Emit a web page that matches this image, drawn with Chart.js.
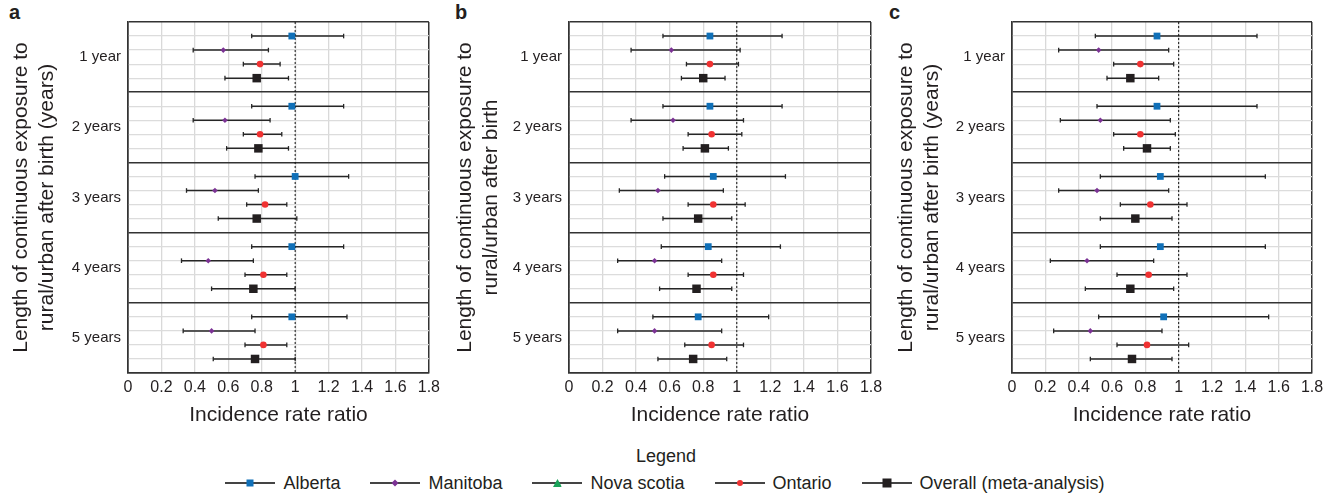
<!DOCTYPE html>
<html>
<head>
<meta charset="utf-8">
<script src="https://cdn.jsdelivr.net/npm/chart.js"></script>
<style>
  body { margin: 0; background: #fff; width: 1336px; height: 494px; position: relative; overflow: hidden;
         font-family: "Liberation Sans", Arial, sans-serif; color: #231f20; }
  canvas { position: absolute; top: 0; }
  .tag { position: absolute; top: 1px; font-weight: bold; font-size: 20px; }
  #legend-title { position: absolute; left: 0; width: 1332px; text-align: center; top: 446px; font-size: 18px; }
  #legend { position: absolute; top: 472px; left: 0; width: 1330px; display: flex; justify-content: center; font-size: 18px; }
  .item { display: flex; align-items: center; margin: 0 15px; }
  .sym { position: relative; width: 50px; height: 22px; margin-right: 8px; }
  .sym .ln { position: absolute; left: 0; right: 0; top: 10px; height: 1.5px; background: #444; }
  .sym .mk { position: absolute; left: 50%; top: 11px; transform: translate(-50%, -50%); }
</style>
</head>
<body>
<div class="tag" style="left:9px">a</div>
<div class="tag" style="left:455px">b</div>
<div class="tag" style="left:889px">c</div>
<canvas id="chartA" width="445" height="431" style="left:0px"></canvas>
<canvas id="chartB" width="445" height="431" style="left:444px"></canvas>
<canvas id="chartC" width="451" height="431" style="left:885px"></canvas>
<div id="legend-title">Legend</div>
<div id="legend"></div>
<script>
const years = ['1 year', '2 years', '3 years', '4 years', '5 years'];
const xTicks = [0, 0.2, 0.4, 0.6, 0.8, 1, 1.2, 1.4, 1.6, 1.8];
const regions = ['Alberta', 'Manitoba', 'Nova scotia', 'Ontario', 'Overall (meta-analysis)'];

// [estimate, lower, upper] for 1..5 years
const aAlberta = [[0.98, 0.74, 1.29], [0.98, 0.74, 1.29], [1.00, 0.76, 1.32], [0.98, 0.74, 1.29], [0.98, 0.74, 1.31]];
const aManitoba = [[0.57, 0.39, 0.84], [0.58, 0.39, 0.85], [0.52, 0.35, 0.78], [0.48, 0.32, 0.75], [0.50, 0.33, 0.76]];
const aNovaScotia = [];
const aOntario = [[0.79, 0.69, 0.91], [0.79, 0.69, 0.92], [0.82, 0.71, 0.95], [0.81, 0.70, 0.95], [0.81, 0.70, 0.95]];
const aOverall = [[0.77, 0.58, 0.96], [0.78, 0.59, 0.96], [0.77, 0.54, 1.01], [0.75, 0.50, 1.00], [0.76, 0.51, 1.00]];

const bAlberta = [[0.84, 0.56, 1.27], [0.84, 0.56, 1.27], [0.86, 0.57, 1.29], [0.83, 0.55, 1.26], [0.77, 0.50, 1.19]];
const bManitoba = [[0.61, 0.37, 1.02], [0.62, 0.37, 1.04], [0.53, 0.30, 0.92], [0.51, 0.29, 0.91], [0.51, 0.29, 0.91]];
const bNovaScotia = [];
const bOntario = [[0.84, 0.70, 1.01], [0.85, 0.71, 1.03], [0.86, 0.71, 1.05], [0.86, 0.71, 1.04], [0.85, 0.69, 1.04]];
const bOverall = [[0.80, 0.67, 0.93], [0.81, 0.68, 0.95], [0.77, 0.56, 0.97], [0.76, 0.54, 0.97], [0.74, 0.53, 0.94]];

const cAlberta = [[0.87, 0.50, 1.47], [0.87, 0.51, 1.47], [0.89, 0.53, 1.52], [0.89, 0.53, 1.52], [0.91, 0.52, 1.54]];
const cManitoba = [[0.52, 0.28, 0.94], [0.53, 0.29, 0.95], [0.51, 0.28, 0.94], [0.45, 0.23, 0.85], [0.47, 0.25, 0.90]];
const cNovaScotia = [];
const cOntario = [[0.77, 0.61, 0.97], [0.77, 0.61, 0.98], [0.83, 0.65, 1.05], [0.82, 0.63, 1.05], [0.81, 0.63, 1.06]];
const cOverall = [[0.71, 0.57, 0.88], [0.81, 0.67, 0.95], [0.74, 0.53, 0.96], [0.71, 0.44, 0.97], [0.72, 0.47, 0.96]];

const style = {
  'Alberta': { row: 1, color: '#1070b8', shape: 'rect', r: 4.8 },
  'Manitoba': { row: 2, color: '#7b3294', shape: 'rectRot', r: 2.8 },
  'Nova scotia': { row: 0, color: '#1aa35a', shape: 'triangle', r: 4 },
  'Ontario': { row: 3, color: '#f03232', shape: 'circle', r: 3.3 },
  'Overall (meta-analysis)': { row: 4, color: '#231f20', shape: 'rect', r: 6 },
};

const ink = '#231f20';
const font = 'Liberation Sans, Arial, sans-serif';

function makePanel(id, seriesList, yTitle, yWidth, padRight) {
  const datasets = [];
  seriesList.forEach((vals, k) => {
    const s = style[regions[k]];
    const bars = [];
    const pts = [];
    vals.forEach((v, g) => {
      const y = g * 5 + s.row;
      bars.push({ x: v[1], y }, { x: v[2], y }, { x: null, y: null });
      pts.push({ x: v[0], y });
    });
    datasets.push({
      label: regions[k] + ' CI', data: bars, showLine: true, spanGaps: false, order: 2,
      borderColor: '#262626', borderWidth: 1.5,
      pointStyle: 'line', pointRotation: 90, pointRadius: 2.3,
      pointBorderColor: '#262626', pointBorderWidth: 1.3,
    });
    datasets.push({
      label: regions[k], data: pts, showLine: false, order: 0,
      pointStyle: s.shape, pointRadius: s.r, pointBackgroundColor: s.color,
      pointBorderColor: s.color, pointBorderWidth: 0,
    });
  });
  datasets.push({
    label: 'ref', data: [{ x: 1, y: 0 }, { x: 1, y: 25 }], showLine: true, order: 1,
    borderColor: '#111', borderWidth: 1, borderDash: [2, 2], pointRadius: 0,
  });

  return new Chart(document.getElementById(id), {
    type: 'scatter',
    data: { datasets },
    options: {
      responsive: false,
      animation: false,
      layout: { padding: { top: 22, right: padRight, bottom: 0, left: 0 } },
      plugins: { legend: { display: false }, tooltip: { enabled: false } },
      scales: {
        x: {
          type: 'linear', min: 0, max: 1.8,
          afterBuildTicks: (scale) => { scale.ticks = xTicks.map((v) => ({ value: v })); },
          afterFit: (scale) => { scale.height = 58; },
          ticks: {
            autoSkip: false, maxRotation: 0, padding: 5, color: ink,
            font: { family: font, size: 16 },
            callback: (v) => String(Math.round(v * 10) / 10),
          },
          grid: {
            drawTicks: false,
            color: (ctx) => (ctx.tick && (ctx.tick.value === 0 || ctx.tick.value === 1.8) ? '#333' : '#d9d9d9'),
            lineWidth: (ctx) => (ctx.tick && (ctx.tick.value === 0 || ctx.tick.value === 1.8) ? 1.5 : 1.3),
          },
          border: { display: true, color: '#333', width: 1.5 },
          title: {
            display: true, text: 'Incidence rate ratio', color: ink,
            font: { family: font, size: 21 }, padding: { top: 4, bottom: 3 },
          },
        },
        y: {
          type: 'linear', min: 0, max: 25, reverse: true,
          afterBuildTicks: (scale) => {
            const t = [];
            for (let i = 0; i <= 25; i += 1) {
              t.push({ value: i });
              if (i % 5 === 2) t.push({ value: i + 0.5 });
            }
            scale.ticks = t;
          },
          afterFit: (scale) => { scale.width = yWidth; },
          ticks: {
            autoSkip: false, padding: 7, color: ink,
            font: { family: font, size: 15 },
            callback: (v) => (v % 5 === 2.5 ? years[Math.floor(v / 5)] : ''),
          },
          grid: {
            drawTicks: false,
            color: (ctx) => {
              const v = ctx.tick ? ctx.tick.value : 1;
              if (v % 5 === 2.5) return 'rgba(0,0,0,0)';
              return v % 5 === 0 ? '#333' : '#dcdcdc';
            },
            lineWidth: (ctx) => (ctx.tick && ctx.tick.value % 5 === 0 ? 1.5 : 1.2),
          },
          border: { display: true, color: '#333', width: 1.5 },
          title: {
            display: true, text: yTitle, color: ink,
            font: { family: font, size: 21 }, padding: { top: 9, bottom: 0 },
          },
        },
      },
    },
  });
}

makePanel('chartA', [aAlberta, aManitoba, aNovaScotia, aOntario, aOverall],
  ['Length of continuous exposure to', 'rural/urban after birth (years)'], 128, 16);
makePanel('chartB', [bAlberta, bManitoba, bNovaScotia, bOntario, bOverall],
  ['Length of continuous exposure to', 'rural/urban after birth'], 125, 18);
makePanel('chartC', [cAlberta, cManitoba, cNovaScotia, cOntario, cOverall],
  ['Length of continuous exposure to', 'rural/urban after birth (years)'], 127, 24);

// legend
const markCss = {
  'Alberta': 'width:7px;height:7px;background:#1070b8;',
  'Manitoba': 'width:5px;height:5px;background:#7b3294;transform:translate(-50%,-50%) rotate(45deg);',
  'Nova scotia': 'width:9px;height:8px;background:#1aa35a;clip-path:polygon(50% 0,100% 100%,0 100%);',
  'Ontario': 'width:6px;height:6px;border-radius:50%;background:#f03232;',
  'Overall (meta-analysis)': 'width:9px;height:9px;background:#231f20;',
};
const legend = document.getElementById('legend');
regions.forEach((name) => {
  const item = document.createElement('div');
  item.className = 'item';
  item.innerHTML = '<div class="sym"><div class="ln"></div><div class="mk" style="' + markCss[name] + '"></div></div><span>' + name + '</span>';
  legend.appendChild(item);
});
</script>
</body>
</html>
